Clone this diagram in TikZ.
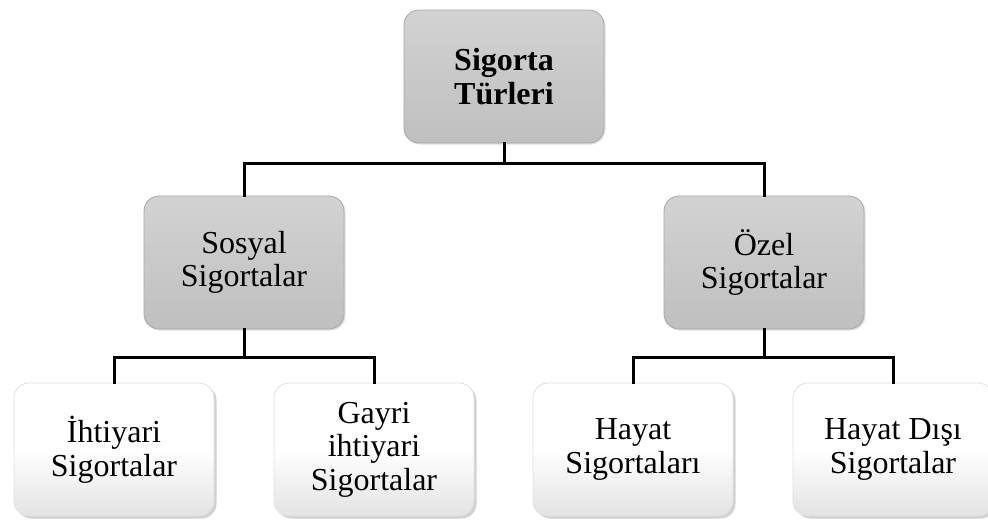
\documentclass[tikz,border=0pt]{standalone}
\usepackage{fontspec}
\setmainfont{Liberation Serif}
\usetikzlibrary{shadows}
\begin{document}
\begin{tikzpicture}[x=1pt,y=1pt,
  box/.style={rounded corners=15pt, minimum width=200pt, minimum height=133pt,
    align=center, inner sep=0pt, font=\fontsize{32}{33.5}\selectfont},
  graybox/.style={box, draw=gray!70, line width=0.8pt,
    top color=gray!35, bottom color=gray!50,
    drop shadow={shadow xshift=1.5pt, shadow yshift=-1.5pt, opacity=0.25, fill=gray}},
  whitebox/.style={box, draw=gray!25, line width=0.8pt,
    top color=white, bottom color=gray!22, middle color=white,
    drop shadow={shadow xshift=2.5pt, shadow yshift=-2.5pt, opacity=0.45, fill=gray!80}},
  link/.style={line width=3pt, line cap=rect}]
\useasboundingbox (0,0) rectangle (988,-520);

% hierarchy of boxes
\node[graybox, font=\fontsize{32}{33.5}\selectfont\bfseries] (root) at (504,-76.5) {Sigorta\\Türleri};
\node[graybox] (sosyal) at (244,-262.5) {Sosyal\\Sigortalar};
\node[graybox] (ozel) at (764,-262.5) {Özel\\Sigortalar};
\node[whitebox] (ihti) at (114,-449.5) {İhtiyari\\Sigortalar};
\node[whitebox] (gayri) at (374,-449.5) {Gayri\\ihtiyari\\Sigortalar};
\node[whitebox] (hayat) at (633,-449.5) {Hayat\\Sigortaları};
\node[whitebox] (disi) at (893,-449.5) {Hayat Dışı\\Sigortalar};

% elbow connectors
\coordinate (j0) at (504,-163);
\coordinate (j1) at (244,-357);
\coordinate (j2) at (764,-357);
\draw[link] (root.south) -- (j0);
\draw[link] (sosyal.north) |- (j0) -| (ozel.north);
\draw[link] (sosyal.south) -- (j1);
\draw[link] (ihti.north) |- (j1) -| (gayri.north);
\draw[link] (ozel.south) -- (j2);
\draw[link] (hayat.north) |- (j2) -| (disi.north);
\end{tikzpicture}
\end{document}
